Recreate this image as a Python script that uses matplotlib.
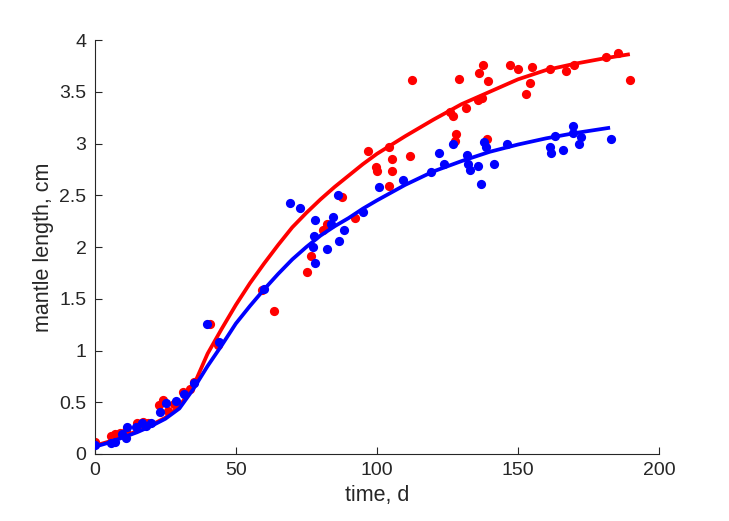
import numpy as np
import matplotlib.pyplot as plt

# observed mantle lengths (time in days, length in cm)
red_t = [0, 5.9, 7.1, 9, 11, 14.8, 17.1, 19, 22.8, 24.2, 26, 28, 31.3, 33.7, 35,
         40.8, 43.7, 59.1, 63.6, 75.4, 76.5, 81.0, 82.4, 87.7, 92.4, 96.9, 99.6,
         100.1, 104.3, 104.3, 105.2, 105.2, 111.7, 112.5, 125.9, 126.8, 127.7, 128,
         129, 131.6, 135.7, 136.2, 137.1, 137.5, 138.9, 139.3, 147.2, 150, 152.8,
         154.3, 155, 161.3, 167, 169.8, 181.2, 185.5, 189.7]
red_len = [0.12, 0.17, 0.19, 0.20, 0.22, 0.30, 0.31, 0.30, 0.47, 0.52, 0.42, 0.48, 0.60,
           0.63, 0.70, 1.26, 1.05, 1.58, 1.38, 1.76, 1.91, 2.16, 2.22, 2.48, 2.28, 2.93,
           2.77, 2.73, 2.97, 2.59, 2.85, 2.73, 2.88, 3.61, 3.30, 3.27, 3.02, 3.09, 3.62,
           3.34, 3.42, 3.68, 3.44, 3.76, 3.04, 3.60, 3.76, 3.72, 3.48, 3.58, 3.74, 3.72,
           3.70, 3.76, 3.84, 3.87, 3.61]

blue_t = [0, 5.6, 7.1, 9.5, 11, 11.5, 14.5, 16.6, 18, 20, 23, 25.2, 28.7, 31.7, 35.1,
          39.8, 44.1, 59.9, 69.1, 72.7, 77.2, 77.7, 77.9, 77.9, 82.4, 83.7, 84.6, 86.1,
          86.5, 88.4, 95.2, 100.8, 109.1, 119.1, 122.1, 123.9, 127.1, 131.8, 132.2,
          133.0, 135.7, 136.8, 137.9, 138.7, 141.5, 146.2, 161.3, 161.6, 163.2, 166.0,
          169.4, 169.6, 171.6, 172.3, 182.9]
blue_len = [0.09, 0.11, 0.12, 0.19, 0.15, 0.26, 0.26, 0.30, 0.27, 0.30, 0.41, 0.49, 0.51,
            0.58, 0.69, 1.26, 1.08, 1.59, 2.43, 2.38, 2.00, 2.11, 2.26, 1.85, 1.98, 2.22,
            2.29, 2.50, 2.06, 2.16, 2.34, 2.58, 2.65, 2.72, 2.91, 2.80, 3.00, 2.89, 2.80,
            2.74, 2.78, 2.61, 3.01, 2.97, 2.80, 3.00, 2.97, 2.91, 3.07, 2.94, 3.17, 3.10,
            3.00, 3.06, 3.04]

# fitted growth curves
red_fit_t = [0, 5, 10, 15, 20, 25, 30, 35, 40, 45, 50, 55, 60, 65, 70, 75, 80, 85, 90,
             95, 100, 110, 120, 130, 140, 150, 160, 170, 180, 189]
red_fit = [0.08, 0.12, 0.17, 0.22, 0.28, 0.35, 0.46, 0.66, 0.97, 1.21, 1.44, 1.65, 1.84,
           2.02, 2.19, 2.33, 2.46, 2.58, 2.69, 2.80, 2.90, 3.07, 3.23, 3.38, 3.50, 3.62,
           3.71, 3.77, 3.82, 3.86]

blue_fit_t = [0, 5, 10, 15, 20, 25, 30, 35, 40, 45, 50, 55, 60, 65, 70, 75, 80, 85, 90,
              95, 100, 110, 120, 130, 140, 150, 160, 170, 182]
blue_fit = [0.07, 0.11, 0.16, 0.21, 0.27, 0.34, 0.44, 0.63, 0.85, 1.05, 1.26, 1.43, 1.59,
            1.74, 1.88, 2.00, 2.11, 2.20, 2.28, 2.37, 2.45, 2.60, 2.73, 2.83, 2.92, 2.99,
            3.05, 3.10, 3.15]

plt.rcParams['font.family'] = ['Liberation Sans', 'DejaVu Sans']
dark = '#262626'

fig = plt.figure(figsize=(7.29, 5.21), dpi=100)
ax = fig.add_axes([0.130, 0.1286, 0.774, 0.7946])

ax.scatter(red_t, red_len, s=44, color='#ff0000', linewidths=0, zorder=2)
ax.plot(red_fit_t, red_fit, color='#ff0000', linewidth=2.7, zorder=3,
        solid_joinstyle='round')
ax.scatter(blue_t, blue_len, s=44, color='#0000ff', linewidths=0, zorder=4)
ax.plot(blue_fit_t, blue_fit, color='#0000ff', linewidth=2.7, zorder=5,
        solid_joinstyle='round')

ax.set_xlim(0, 200)
ax.set_ylim(0, 4)
ax.set_xticks([0, 50, 100, 150, 200])
ax.set_yticks(np.arange(0, 4.01, 0.5))
ax.set_yticklabels(['0', '0.5', '1', '1.5', '2', '2.5', '3', '3.5', '4'])

for side in ['top', 'right']:
    ax.spines[side].set_visible(False)
for side in ['left', 'bottom']:
    ax.spines[side].set_color(dark)
    ax.spines[side].set_linewidth(0.8)

ax.tick_params(direction='in', length=5, width=0.8, colors=dark, labelsize=14, pad=6)
ax.set_xlabel('time, d', fontsize=15.5, color=dark)
ax.set_ylabel('mantle length, cm', fontsize=15.5, color=dark)

fig.savefig('out.png', dpi=100)
